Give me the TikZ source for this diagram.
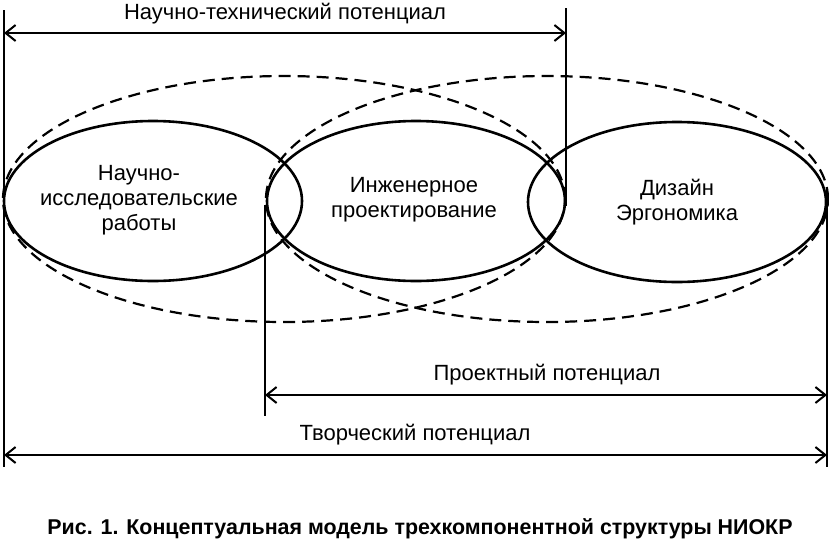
\documentclass[tikz,border=0pt]{standalone}
\usepackage{fontspec}
\setmainfont{Liberation Sans}
\usetikzlibrary{shapes.geometric,arrows.meta}
\begin{document}
\begin{tikzpicture}[x=1pt,y=-1pt,
  solidell/.style={ellipse,draw,line width=2.6pt,minimum width=298pt,minimum height=160pt,inner sep=0pt},
  dashell/.style={ellipse,draw,line width=2.2pt,dash pattern=on 12pt off 7pt,minimum width=562pt,minimum height=246pt,inner sep=0pt},
  vline/.style={line width=2pt},
  dimarrow/.style={line width=2pt,{Straight Barb[length=10pt,width=16pt,line width=2pt]}-{Straight Barb[length=10pt,width=16pt,line width=2pt]}},
  lbl/.style={font=\fontsize{22}{25}\selectfont,align=center,inner sep=0pt},
  captext/.style={font=\fontsize{21.4}{24}\selectfont\bfseries,inner sep=0pt}]
\useasboundingbox (0,0) rectangle (829,541);
% dashed ellipses
\node[dashell] (d1) at (284,199) {};
\node[dashell] (d2) at (547,199) {};
% solid ellipses
\node[solidell] (e1) at (153,201) {};
\node[solidell] (e2) at (416,201) {};
\node[solidell] (e3) at (677,202) {};
% ellipse texts
\node[lbl] (t1) at (139,200) {Научно-\\исследовательские\\работы};
\node[lbl] (t2) at (414,200) {Инженерное\\проектирование};
\node[lbl] (t3) at (677,202) {Дизайн\\Эргономика};
% vertical lines
\coordinate (v1a) at (4,10);
\coordinate (v1b) at (4,467);
\coordinate (v2a) at (566,8);
\coordinate (v2b) at (566,206);
\coordinate (v3a) at (265,205);
\coordinate (v3b) at (265,416);
\coordinate (v4a) at (827,188);
\coordinate (v4b) at (827,467);
\draw[vline] (v1a) -- (v1b);
\draw[vline] (v2a) -- (v2b);
\draw[vline] (v3a) -- (v3b);
\draw[vline] (v4a) -- (v4b);
% dimension arrows
\coordinate (a1l) at (4,33);
\coordinate (a1r) at (566,33);
\coordinate (a2l) at (265,395);
\coordinate (a2r) at (827,395);
\coordinate (a3l) at (4,455);
\coordinate (a3r) at (827,455);
\draw[dimarrow] (a1l) -- (a1r);
\draw[dimarrow] (a2l) -- (a2r);
\draw[dimarrow] (a3l) -- (a3r);
% labels
\node[lbl,anchor=base] (l1) at (285,19) {Научно-технический потенциал};
\node[lbl,anchor=base] (l2) at (547,380) {Проектный потенциал};
\node[lbl,anchor=base] (l3) at (415,440) {Творческий потенциал};
\node[captext,anchor=base] (c) at (420,534) {Рис. 1. Концептуальная модель трехкомпонентной структуры НИОКР};
\end{tikzpicture}
\end{document}
